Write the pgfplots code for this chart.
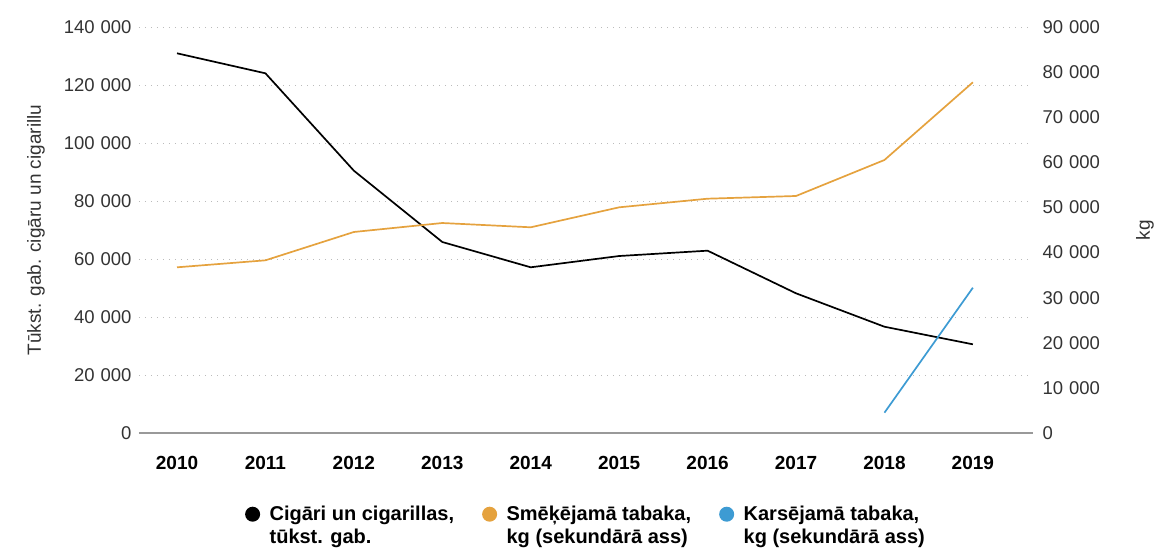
\documentclass[border=0pt]{standalone}
\usepackage{fontspec}
\setmainfont{Liberation Sans}
\usepackage{pgfplots}
\pgfplotsset{compat=1.18}
\definecolor{corange}{HTML}{E5A23E}
\definecolor{cblue}{HTML}{3D9BD3}
\definecolor{ctick}{HTML}{333333}
\definecolor{cgrid}{HTML}{BBBBBB}
\definecolor{caxis}{HTML}{999999}
\newcommand{\ts}{\hspace{0.32em}}
\begin{document}
\begin{tikzpicture}
\useasboundingbox (-139pt,-117pt) rectangle (1017pt,433pt);
\pgfplotsset{
 common/.style={
  scale only axis, width=894pt, height=406pt,
  xmin=2009.57, xmax=2019.68,
  at={(0pt,0pt)}, anchor=south west,
  ymin=0,
  scaled y ticks=false, scaled x ticks=false,
  tick style={draw=none},
  xtick={2010,2011,2012,2013,2014,2015,2016,2017,2018,2019},
  xticklabels={2010,2011,2012,2013,2014,2015,2016,2017,2018,2019},
  yticklabel style={font=\fontsize{18.5}{21}\selectfont, text=ctick},
 }
}
\begin{axis}[common,
  ymax=140000, ytick={0,20000,40000,60000,80000,100000,120000,140000},
  yticklabels={0,20\ts000,40\ts000,60\ts000,80\ts000,100\ts000,120\ts000,140\ts000},
  axis x line*=bottom, axis y line*=left,
  y axis line style={draw=none},
  x axis line style={draw=caxis, line width=1.5pt, -},
  ymajorgrids, grid style={draw=cgrid, line width=1pt, dash pattern=on 1pt off 5pt},
  yticklabel style={xshift=-4pt},
  xticklabel style={font=\bfseries\fontsize{19}{22}\selectfont, text=black, yshift=-20pt},
  every axis y label/.style={at={(axis description cs:-0.1152,0.5)}, rotate=90, anchor=center, font=\fontsize{19}{22}\selectfont, text=ctick},
  ylabel={Tūkst. gab. cigāru un cigarillu},
]
\addplot[black, line width=1.7pt] coordinates {
 (2010,130930) (2011,124030) (2012,90450) (2013,65860) (2014,57140)
 (2015,61030) (2016,62870) (2017,48170) (2018,36650) (2019,30580)};
\end{axis}
\begin{axis}[common,
  ymax=90000, ytick={0,10000,20000,30000,40000,50000,60000,70000,80000,90000},
  yticklabels={0,10\ts000,20\ts000,30\ts000,40\ts000,50\ts000,60\ts000,70\ts000,80\ts000,90\ts000},
  axis y line*=right, axis x line=none,
  y axis line style={draw=none},
  yticklabel style={xshift=6pt},
  every axis y label/.style={at={(axis description cs:1.1253,0.5)}, rotate=90, anchor=center, font=\fontsize{19}{22}\selectfont, text=ctick},
  ylabel={kg},
  legend image code/.code={\path[draw=none, fill=none] (0pt,0pt) rectangle (22pt,1pt); \fill[#1, draw=none] (7pt,11.5pt) circle (7.5pt);},
  legend columns=3,
  legend style={at={(0.5,-0.17)}, anchor=north, draw=none, fill=none,
    font=\bfseries\fontsize{20}{23}\selectfont, cells={align=left, anchor=west},
    /tikz/every even column/.append style={column sep=26pt}},
]
\addlegendimage{black, line width=1.7pt}
\addlegendentry{Cigāri un cigarillas,\\tūkst. gab.}
\addplot[corange, line width=1.7pt] coordinates {
 (2010,36730) (2011,38280) (2012,44560) (2013,46550) (2014,45600)
 (2015,50030) (2016,51940) (2017,52540) (2018,60520) (2019,77740)};
\addlegendentry{Smēķējamā tabaka,\\kg (sekundārā ass)}
\addplot[cblue, line width=1.7pt] coordinates {(2018,4500) (2019,32210)};
\addlegendentry{Karsējamā tabaka,\\kg (sekundārā ass)}
\end{axis}
\end{tikzpicture}
\end{document}
